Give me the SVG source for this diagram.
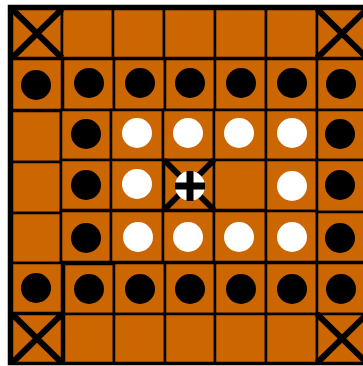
<svg xmlns="http://www.w3.org/2000/svg" width="363" height="366" viewBox="0 0 363 366">
<style>
.c{fill:#CC6600;stroke:#000;stroke-width:2.5}
.b{fill:#000}
.w{fill:#fff}
.x{stroke:#000;stroke-width:6;stroke-linecap:butt}
</style>
<rect x="0" y="0" width="363" height="366" fill="#fff"/>
<rect x="10" y="7" width="360" height="356" fill="#CC6600" stroke="#000" stroke-width="4.5"/>
<g id="cells">
<rect class="c" x="12" y="9" width="50" height="49"/>
<rect class="c" x="62" y="9" width="51" height="49"/>
<rect class="c" x="113" y="9" width="51" height="49"/>
<rect class="c" x="164" y="9" width="51" height="49"/>
<rect class="c" x="215" y="9" width="51" height="49"/>
<rect class="c" x="266" y="9" width="51" height="49"/>
<rect class="c" x="317" y="9" width="50" height="49"/>

<rect class="c" x="12" y="59" width="50" height="51"/>
<rect class="c" x="63" y="59" width="51" height="51"/>
<rect class="c" x="114" y="59" width="51" height="51"/>
<rect class="c" x="165" y="59" width="50" height="51"/>
<rect class="c" x="215" y="59" width="51" height="51"/>
<rect class="c" x="266" y="59" width="51" height="51"/>
<rect class="c" x="317" y="59" width="50" height="51"/>

<rect class="c" x="12" y="111" width="49" height="51"/>
<rect class="c" x="61" y="110" width="50" height="50"/>
<rect class="c" x="111" y="110" width="52" height="50"/>
<rect class="c" x="163" y="110" width="51" height="50"/>
<rect class="c" x="214" y="110" width="52" height="50"/>
<rect class="c" x="266" y="110" width="51" height="50"/>
<rect class="c" x="317" y="110" width="50" height="50"/>

<rect class="c" x="12" y="162" width="49" height="51"/>
<rect class="c" x="61" y="160" width="50" height="50"/>
<rect class="c" x="111" y="160" width="52" height="50"/>
<rect class="c" x="164" y="160" width="50" height="50"/>
<rect class="c" x="214" y="160" width="52" height="50"/>
<rect class="c" x="266" y="160" width="51" height="51"/>
<rect class="c" x="317" y="160" width="50" height="52"/>

<rect class="c" x="12" y="213" width="49" height="50"/>
<rect class="c" x="61" y="211" width="50" height="51"/>
<rect class="c" x="111" y="211" width="52" height="51"/>
<rect class="c" x="163" y="211" width="51" height="51"/>
<rect class="c" x="214" y="211" width="52" height="51"/>
<rect class="c" x="266" y="211" width="51" height="51"/>
<rect class="c" x="317" y="212" width="50" height="50"/>

<rect class="c" x="12" y="263" width="50" height="50"/>
<rect class="c" x="64" y="264" width="50" height="50"/>
<rect class="c" x="114" y="263" width="51" height="51"/>
<rect class="c" x="165" y="263" width="50" height="51"/>
<rect class="c" x="215" y="263" width="51" height="51"/>
<rect class="c" x="266" y="263" width="51" height="51"/>
<rect class="c" x="317" y="263" width="50" height="51"/>

<rect class="c" x="12" y="314" width="50" height="49"/>
<rect class="c" x="64" y="314" width="50" height="49"/>
<rect class="c" x="114" y="314" width="51" height="49"/>
<rect class="c" x="165" y="314" width="50" height="49"/>
<rect class="c" x="215" y="314" width="51" height="49"/>
<rect class="c" x="266" y="314" width="51" height="49"/>
<rect class="c" x="317" y="314" width="50" height="49"/>
</g>
<g id="corners">
<path class="x" d="M12 9L62 58M62 9L12 58"/>
<path class="x" d="M317 9L367 58M367 9L317 58"/>
<path class="x" d="M12 314L62 363M62 314L12 363"/>
<path class="x" d="M317 314L367 363M367 314L317 363"/>
<path class="x" d="M164 160L214 210M214 160L164 210" stroke-width="4"/>
</g>
<g id="black">
<circle class="b" cx="36" cy="85" r="15"/>
<circle class="b" cx="89" cy="83" r="15"/>
<circle class="b" cx="140" cy="83" r="15"/>
<circle class="b" cx="190" cy="83" r="15"/>
<circle class="b" cx="241" cy="83" r="15"/>
<circle class="b" cx="292" cy="83" r="15"/>
<circle class="b" cx="341" cy="84" r="15"/>
<circle class="b" cx="86" cy="134" r="15"/>
<circle class="b" cx="340" cy="134" r="15"/>
<circle class="b" cx="86" cy="185" r="15"/>
<circle class="b" cx="340" cy="185" r="15"/>
<circle class="b" cx="86" cy="238" r="15"/>
<circle class="b" cx="340" cy="238" r="15"/>
<circle class="b" cx="36" cy="288" r="15"/>
<circle class="b" cx="89" cy="289" r="15"/>
<circle class="b" cx="140" cy="289" r="15"/>
<circle class="b" cx="190" cy="289" r="15"/>
<circle class="b" cx="241" cy="289" r="15"/>
<circle class="b" cx="292" cy="289" r="15"/>
<circle class="b" cx="341" cy="289" r="15"/>
</g>
<g id="white">
<circle class="w" cx="137" cy="133" r="15"/>
<circle class="w" cx="188" cy="133" r="15"/>
<circle class="w" cx="239" cy="133" r="15"/>
<circle class="w" cx="292" cy="133" r="15"/>
<circle class="w" cx="137" cy="184" r="15"/>
<circle class="w" cx="292" cy="186" r="15"/>
<circle class="w" cx="138" cy="237" r="15"/>
<circle class="w" cx="188" cy="237" r="15"/>
<circle class="w" cx="239" cy="237" r="15"/>
<circle class="w" cx="292" cy="237" r="15"/>
</g>
<g id="king">
<circle class="w" cx="190" cy="186" r="15"/>
<path d="M175 186H205M190 171V201" stroke="#000" stroke-width="7"/>
</g>
</svg>
